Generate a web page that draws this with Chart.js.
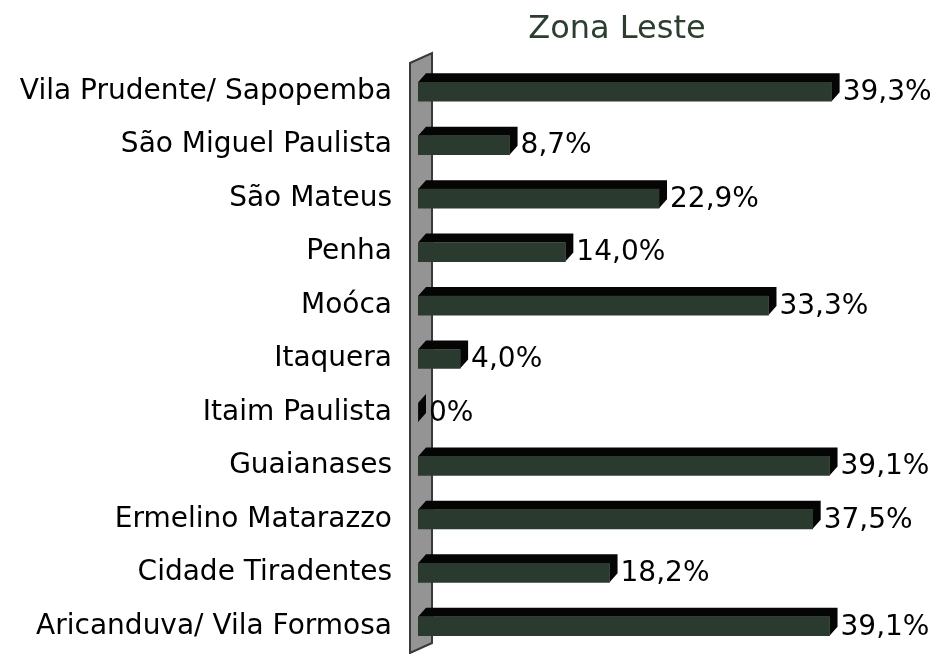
<!DOCTYPE html>
<html>
<head>
<meta charset="utf-8">
<script src="https://cdn.jsdelivr.net/npm/chart.js@4"></script>
<style>
  html, body { margin: 0; padding: 0; background: #fff; overflow: hidden; }
  canvas { display: block; }
</style>
</head>
<body>
<canvas id="zonaChart" width="940" height="654"></canvas>
<script>
// dados
const categories = [
  "Vila Prudente/ Sapopemba",
  "São Miguel Paulista",
  "São Mateus",
  "Penha",
  "Moóca",
  "Itaquera",
  "Itaim Paulista",
  "Guaianases",
  "Ermelino Matarazzo",
  "Cidade Tiradentes",
  "Aricanduva/ Vila Formosa"
];
const values = [39.3, 8.7, 22.9, 14.0, 33.3, 4.0, 0, 39.1, 37.5, 18.2, 39.1];
const chartTitle = "Zona Leste";

const FONT = "'DejaVu Sans', Verdana, sans-serif";
const DX = 8, DY = 9; // profundidade 3D

function fmt(v) {
  if (v === 0) return "0%";
  return v.toFixed(1).replace(".", ",") + "%";
}

// parede cinza + lado escuro das barras
const depthPlugin = {
  id: "depth",
  beforeDatasetsDraw(chart) {
    const ctx = chart.ctx;
    const area = chart.chartArea;
    const wl = area.left - 8, wr = area.left + 14;
    ctx.save();
    ctx.beginPath();
    ctx.moveTo(wl, area.top - 2);
    ctx.lineTo(wr, area.top - 12);
    ctx.lineTo(wr, area.bottom - 10);
    ctx.lineTo(wl, area.bottom);
    ctx.closePath();
    ctx.fillStyle = "#949494";
    ctx.fill();
    ctx.lineWidth = 2;
    ctx.strokeStyle = "#3a3a3a";
    ctx.stroke();

    const meta = chart.getDatasetMeta(0);
    ctx.fillStyle = "#050505";
    meta.data.forEach(bar => {
      const top = bar.y - bar.height / 2;
      const bottom = bar.y + bar.height / 2;
      ctx.beginPath();
      ctx.moveTo(bar.base, top);
      ctx.lineTo(bar.base + DX, top - DY);
      ctx.lineTo(bar.x + DX, top - DY);
      ctx.lineTo(bar.x + DX, bottom - DY);
      ctx.lineTo(bar.x, bottom);
      ctx.lineTo(bar.x, top);
      ctx.closePath();
      ctx.fill();
    });
    ctx.restore();
  },
  afterDatasetsDraw(chart) {
    const ctx = chart.ctx;
    ctx.save();
    ctx.font = "28px " + FONT;
    ctx.fillStyle = "#000";
    ctx.textBaseline = "middle";
    ctx.textAlign = "left";
    const meta = chart.getDatasetMeta(0);
    meta.data.forEach((bar, i) => {
      ctx.fillText(fmt(values[i]), bar.x + DX + 3, bar.y + 1);
    });
    // título
    ctx.font = "32px " + FONT;
    ctx.fillStyle = "#2c3e2f";
    ctx.textAlign = "center";
    ctx.fillText(chartTitle, 617, 30);
    ctx.restore();
  }
};

const ctx = document.getElementById("zonaChart").getContext("2d");
new Chart(ctx, {
  type: "bar",
  data: {
    labels: categories,
    datasets: [{
      data: values,
      backgroundColor: "#2b3a2f",
      borderWidth: 0,
      barThickness: 19
    }]
  },
  options: {
    indexAxis: "y",
    responsive: false,
    animation: false,
    layout: { padding: { top: 65, right: 101, bottom: 1, left: 0 } },
    plugins: {
      legend: { display: false },
      title: { display: false },
      tooltip: { enabled: false }
    },
    scales: {
      x: {
        display: false,
        min: 0,
        max: 40
      },
      y: {
        afterFit(scale) {
          scale.width = 418;
          scale.paddingTop = 0;
          scale.paddingBottom = 0;
        },
        grid: { display: false, drawTicks: false },
        border: { display: false },
        ticks: {
          color: "#000",
          padding: 26,
          autoSkip: false,
          font: { family: FONT, size: 28 }
        }
      }
    }
  },
  plugins: [depthPlugin]
});
</script>
</body>
</html>
